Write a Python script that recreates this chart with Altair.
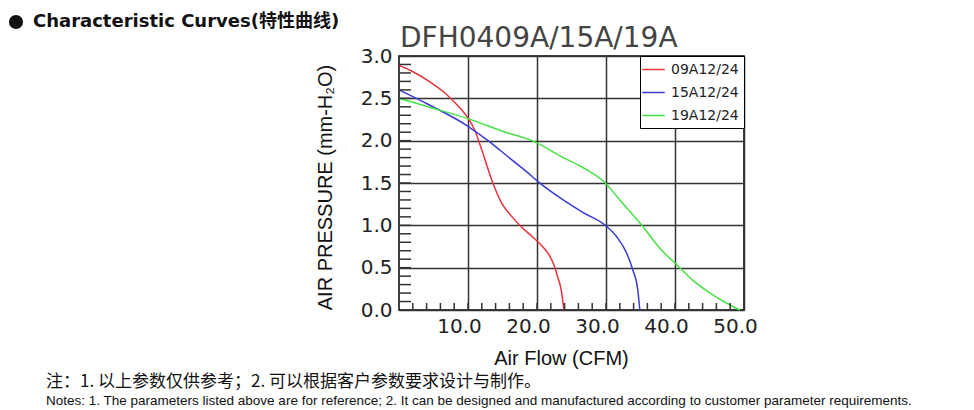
import altair as alt
import pandas as pd

# curve points (CFM, mm-H2O)
red_flow = [0, 1.9, 4.2, 6.7, 9.0, 10.0, 11.0, 12.0, 13.6, 14.9, 16.4, 17.5, 19.4, 20.9, 21.9, 22.6, 23.0, 23.5, 23.9]
red_pres = [2.89, 2.82, 2.71, 2.56, 2.37, 2.27, 2.12, 1.89, 1.5, 1.26, 1.1, 1.0, 0.86, 0.74, 0.63, 0.5, 0.39, 0.24, 0.0]

blue_flow = [0, 4.2, 10.0, 12.9, 14.6, 16.4, 18.4, 20.1, 23.8, 26.7, 29.9, 31.6, 33.0, 33.9, 34.6, 34.9]
blue_pres = [2.6, 2.43, 2.17, 2.0, 1.89, 1.77, 1.64, 1.52, 1.3, 1.15, 1.0, 0.86, 0.67, 0.47, 0.24, 0.0]

green_flow = [0, 4.2, 10.0, 15.4, 19.3, 23.8, 26.7, 29.9, 32.0, 35.2, 37.8, 40.7, 42.6, 45.1, 47.5, 49.4]
green_pres = [2.5, 2.4, 2.26, 2.1, 2.0, 1.8, 1.68, 1.5, 1.3, 1.0, 0.73, 0.5, 0.35, 0.2, 0.08, 0.0]

series = ["09A12/24", "15A12/24", "19A12/24"]
colors = ["#e8333c", "#3b3bd6", "#44e444"]

x_labels = [10, 20, 30, 40, 50]
y_labels = [0, 0.5, 1.0, 1.5, 2.0, 2.5, 3.0]
x_minor = list(range(2, 50, 2))
y_minor = [i / 10 for i in range(1, 30)]

df = pd.concat([
    pd.DataFrame({"flow": red_flow, "pres": red_pres, "model": series[0]}),
    pd.DataFrame({"flow": blue_flow, "pres": blue_pres, "model": series[1]}),
    pd.DataFrame({"flow": green_flow, "pres": green_pres, "model": series[2]}),
])

W, H = 345, 254
num_font = "DejaVu Sans"

xs = alt.Scale(domain=[0, 50], nice=False)
ys = alt.Scale(domain=[0, 3], nice=False)

lines = alt.Chart(df).mark_line(strokeWidth=1.5, interpolate="monotone").encode(
    x=alt.X("flow:Q", scale=xs, axis=alt.Axis(
        values=x_labels, format=".1f", title="Air Flow (CFM)",
        labelOffset=-9, labelPadding=6, titleX=162, titleY=48,
        titleAlign="center", titleBaseline="middle")),
    y=alt.Y("pres:Q", scale=ys, axis=alt.Axis(
        values=y_labels, format=".1f", title="AIR PRESSURE (mm-H₂O)",
        labelPadding=7, titleX=-74, titleY=131,
        titleAlign="center", titleBaseline="middle")),
    color=alt.Color("model:N", scale=alt.Scale(domain=series, range=colors),
                    legend=alt.Legend(title=None, orient="top-right", offset=0,
                                      strokeColor="black", fillColor="white",
                                      padding=5, symbolType="M-1.5,0H1.5",
                                      symbolSize=225, symbolStrokeWidth=1.5,
                                      labelFont=num_font, labelFontSize=14,
                                      labelColor="#222", labelOffset=9,
                                      rowPadding=7)),
    order="flow:Q",
)

xtick = alt.Chart(pd.DataFrame({"v": x_minor})).mark_rule(color="#333", strokeWidth=1.5).encode(
    x=alt.X("v:Q", scale=xs), y=alt.value(H), y2=alt.value(H - 7))
ytick = alt.Chart(pd.DataFrame({"v": y_minor})).mark_rule(color="#333", strokeWidth=1.5).encode(
    y=alt.Y("v:Q", scale=ys), x=alt.value(0), x2=alt.value(12))

model_title = alt.Chart(pd.DataFrame({"t": ["DFH0409A/15A/19A"]})).mark_text(
    align="left", baseline="alphabetic", font=num_font, fontSize=28, color="#444"
).encode(text="t:N", x=alt.value(1), y=alt.value(-9))

bullet = alt.Chart(pd.DataFrame({"t": ["●"]})).mark_circle(size=200, color="#111", opacity=1).encode(
    x=alt.value(-383), y=alt.value(-34))

header = alt.Chart(pd.DataFrame({"t": ["Characteristic Curves(特性曲线)"]})).mark_text(
    align="left", baseline="middle", font="DejaVu Sans, Noto Sans CJK SC", fontSize=18,
    fontWeight="bold", color="#111"
).encode(text="t:N", x=alt.value(-366), y=alt.value(-34))

note_cn = alt.Chart(pd.DataFrame({"t": ["注：1. 以上参数仅供参考；2. 可以根据客户参数要求设计与制作。"]})).mark_text(
    align="left", baseline="middle", font="Noto Sans CJK SC", fontSize=17, color="#111"
).encode(text="t:N", x=alt.value(-353), y=alt.value(326))

note_en = alt.Chart(pd.DataFrame({"t": ["Notes: 1. The parameters listed above are for reference; 2. It can be designed and manufactured according to customer parameter requirements."]})).mark_text(
    align="left", baseline="middle", font="Liberation Sans", fontSize=13.5, color="#111"
).encode(text="t:N", x=alt.value(-353), y=alt.value(345))

chart = alt.layer(lines, xtick, ytick, model_title, bullet, header, note_cn, note_en).properties(
    width=W, height=H,
    autosize=alt.AutoSizeParams(type="none"),
    padding={"left": 391, "top": 48, "right": 200, "bottom": 100},
).configure_view(
    stroke="black", strokeWidth=1.5
).configure_axis(
    grid=True, gridColor="#333", gridWidth=1.5, gridOpacity=1,
    ticks=False, domain=False, labelFlush=False, labelOverlap=False, labelBound=False,
    labelFont=num_font, labelFontSize=20, labelColor="#222",
    titleFont="Liberation Sans", titleFontSize=20, titleFontWeight="normal", titleColor="#111",
)

chart.save("out.html", embed_options={"renderer": "svg", "actions": False})
